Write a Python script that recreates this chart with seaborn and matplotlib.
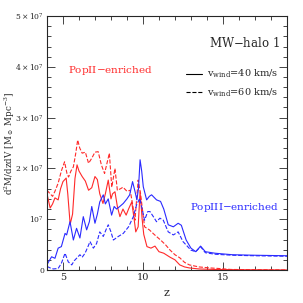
import numpy as np
import pandas as pd
import matplotlib
matplotlib.use("Agg")
import matplotlib.pyplot as plt
from matplotlib.lines import Line2D
from matplotlib.ticker import MultipleLocator, FixedLocator
import seaborn as sns

# data, values in units of 1e7 Msun/Mpc^3
z_pop2_40 = [4.0, 4.2, 4.35, 4.5, 4.7, 4.85, 5.0, 5.2, 5.3, 5.45, 5.6, 5.75, 5.88, 6.0, 6.2,
             6.4, 6.6, 6.8, 7.0, 7.15, 7.3, 7.5, 7.65, 7.83, 8.0, 8.1, 8.25, 8.4, 8.56, 8.75,
             8.95, 9.1, 9.3, 9.45, 9.55, 9.7, 9.82, 9.95, 10.05, 10.25, 10.5, 10.75, 11.0,
             11.3, 11.7, 12.0, 12.3, 12.6, 12.9, 13.5, 14.5, 16.0, 19.0]
v_pop2_40 = [1.50, 1.22, 1.30, 1.42, 1.38, 1.60, 1.74, 1.81, 1.50, 0.90, 1.10, 1.80, 2.07, 1.95,
             1.84, 1.75, 1.57, 1.62, 1.84, 1.78, 1.50, 1.31, 1.50, 1.77, 1.40, 1.50, 1.54, 1.25,
             1.05, 1.20, 1.08, 1.20, 1.34, 1.00, 0.75, 0.85, 1.54, 1.00, 0.70, 0.46, 0.43, 0.47,
             0.36, 0.33, 0.25, 0.20, 0.10, 0.06, 0.04, 0.02, 0.01, 0.005, 0.0]

z_pop2_60 = [4.0, 4.2, 4.35, 4.5, 4.7, 4.9, 5.1, 5.25, 5.35, 5.5, 5.65, 5.8, 5.92, 6.05, 6.2,
             6.4, 6.6, 6.8, 7.0, 7.2, 7.4, 7.6, 7.75, 7.9, 8.05, 8.25, 8.4, 8.6, 8.75, 9.0,
             9.2, 9.35, 9.5, 9.7, 9.85, 9.95, 10.1, 10.4, 10.7, 11.1, 11.4, 11.7, 12.0, 12.3,
             12.6, 12.9, 13.5, 14.2, 14.7, 15.5, 19.0]
v_pop2_60 = [1.57, 1.50, 1.45, 1.55, 1.71, 1.95, 2.13, 1.90, 1.83, 1.95, 2.03, 2.30, 2.56, 2.40,
             2.30, 2.32, 2.10, 2.20, 2.32, 2.33, 2.07, 1.90, 2.10, 2.30, 1.63, 2.00, 1.57, 1.60,
             1.63, 1.55, 1.57, 1.30, 0.98, 1.77, 1.50, 1.24, 0.85, 0.79, 0.70, 0.59, 0.50, 0.39,
             0.30, 0.24, 0.15, 0.10, 0.06, 0.04, 0.03, 0.01, 0.0]

z_pop3_40 = [4.0, 4.1, 4.29, 4.5, 4.7, 4.9, 5.13, 5.23, 5.44, 5.65, 5.85, 6.06, 6.27, 6.48,
             6.65, 6.8, 7.0, 7.15, 7.3, 7.52, 7.65, 7.83, 8.04, 8.2, 8.35, 8.55, 8.77, 9.0,
             9.17, 9.35, 9.5, 9.62, 9.72, 9.82, 9.92, 10.02, 10.23, 10.4, 10.54, 10.85, 11.1,
             11.3, 11.58, 11.9, 12.2, 12.4, 12.7, 13.0, 13.3, 13.6, 13.9, 14.5, 15.6, 17.0, 19.0]
v_pop3_40 = [0.10, 0.16, 0.26, 0.23, 0.43, 0.46, 0.72, 0.69, 0.95, 0.59, 0.82, 0.63, 1.05, 0.79,
             0.95, 1.25, 0.92, 1.10, 1.34, 1.48, 1.30, 1.40, 1.08, 1.25, 1.20, 1.25, 1.31, 1.40,
             1.48, 1.74, 1.55, 1.38, 1.60, 2.17, 1.95, 1.64, 1.38, 1.45, 1.48, 1.38, 1.35, 1.20,
             0.89, 0.85, 0.92, 0.88, 0.59, 0.43, 0.36, 0.47, 0.36, 0.33, 0.30, 0.29, 0.28]

z_pop3_60 = [4.0, 4.2, 4.4, 4.7, 4.9, 5.13, 5.33, 5.55, 5.7, 5.85, 6.06, 6.2, 6.38, 6.55, 6.69,
             6.9, 7.1, 7.3, 7.52, 7.7, 7.83, 8.0, 8.15, 8.46, 8.77, 9.1, 9.4, 9.6, 9.8, 9.95,
             10.1, 10.3, 10.44, 10.65, 10.85, 11.06, 11.27, 11.58, 11.9, 12.2, 12.5, 13.0, 13.3,
             13.6, 13.9, 14.5, 15.6, 17.0, 19.0]
v_pop3_60 = [0.07, 0.04, 0.02, 0.03, 0.13, 0.33, 0.16, 0.10, 0.18, 0.23, 0.30, 0.25, 0.33, 0.45,
             0.56, 0.43, 0.52, 0.75, 0.66, 0.80, 0.89, 0.75, 0.59, 0.66, 0.72, 0.85, 1.05, 1.28,
             1.41, 1.20, 0.98, 1.15, 1.15, 1.05, 0.95, 1.02, 0.98, 0.75, 0.69, 0.75, 0.56, 0.39,
             0.36, 0.46, 0.34, 0.31, 0.29, 0.28, 0.27]

ytick_vals = [0, 1, 2, 3, 4, 5]
ytick_labels = ["0", r"$10^7$", r"$2\times10^7$", r"$3\times10^7$", r"$4\times10^7$", r"$5\times10^7$"]

sns.set_style("ticks")
plt.rcParams['font.family'] = ['DejaVu Serif']
plt.rcParams['mathtext.fontset'] = 'dejavuserif'

red = "#ff2a2a"
blue = "#2a2aff"

fig = plt.figure(figsize=(3.03, 3.03), dpi=100)
ax = fig.add_axes([0.155, 0.109, 0.792, 0.838])

curves = [
    (z_pop2_40, v_pop2_40, red, "-"),
    (z_pop2_60, v_pop2_60, red, "--"),
    (z_pop3_40, v_pop3_40, blue, "-"),
    (z_pop3_60, v_pop3_60, blue, "--"),
]
for zz, vv, col, ls in curves:
    df = pd.DataFrame({"z": zz, "v": np.array(vv) * 1e7})
    sns.lineplot(data=df, x="z", y="v", color=col, linestyle=ls, lw=0.8,
                 sort=False, estimator=None, ax=ax)

ax.set_xlim(4, 19)
ax.set_ylim(0, 5e7)
ax.xaxis.set_major_locator(MultipleLocator(5))
ax.xaxis.set_minor_locator(MultipleLocator(1))
ax.yaxis.set_major_locator(FixedLocator([v * 1e7 for v in ytick_vals]))
ax.yaxis.set_minor_locator(MultipleLocator(2e6))
ax.set_yticklabels(ytick_labels)
ax.tick_params(which="both", direction="in", top=True, right=True, labelsize=7)
ax.tick_params(axis="y", labelsize=5.5)
ax.tick_params(which="major", length=6, width=0.6, pad=2)
ax.tick_params(which="minor", length=3, width=0.6)
for s in ax.spines.values():
    s.set_linewidth(0.8)

ax.set_xlabel("z", fontsize=8)
ax.set_ylabel(r"d$^2$M/dzdV [M$_\odot$ Mpc$^{-3}$]", fontsize=6.3)
ax.yaxis.set_label_coords(-0.125, 0.5)
ax.xaxis.set_label_coords(0.5, -0.07)

ax.text(0.97, 0.895, "MW$-$halo 1", transform=ax.transAxes, ha="right", va="center", fontsize=8.5)
ax.text(0.265, 0.785, "PopII$-$enriched", transform=ax.transAxes, color=red, ha="center", va="center", fontsize=7.5)
ax.text(0.78, 0.245, "PopIII$-$enriched", transform=ax.transAxes, color=blue, ha="center", va="center", fontsize=7.5)

handles = [Line2D([], [], color="k", lw=0.8, ls="-"),
           Line2D([], [], color="k", lw=0.8, ls="--")]
ax.legend(handles, [r"v$_{\rm wind}$=40 km/s", r"v$_{\rm wind}$=60 km/s"],
          loc="upper right", bbox_to_anchor=(1.0, 0.83), frameon=False, fontsize=7,
          handlelength=1.6, handletextpad=0.5, labelspacing=0.6)

fig.savefig("out.png", dpi=100)
